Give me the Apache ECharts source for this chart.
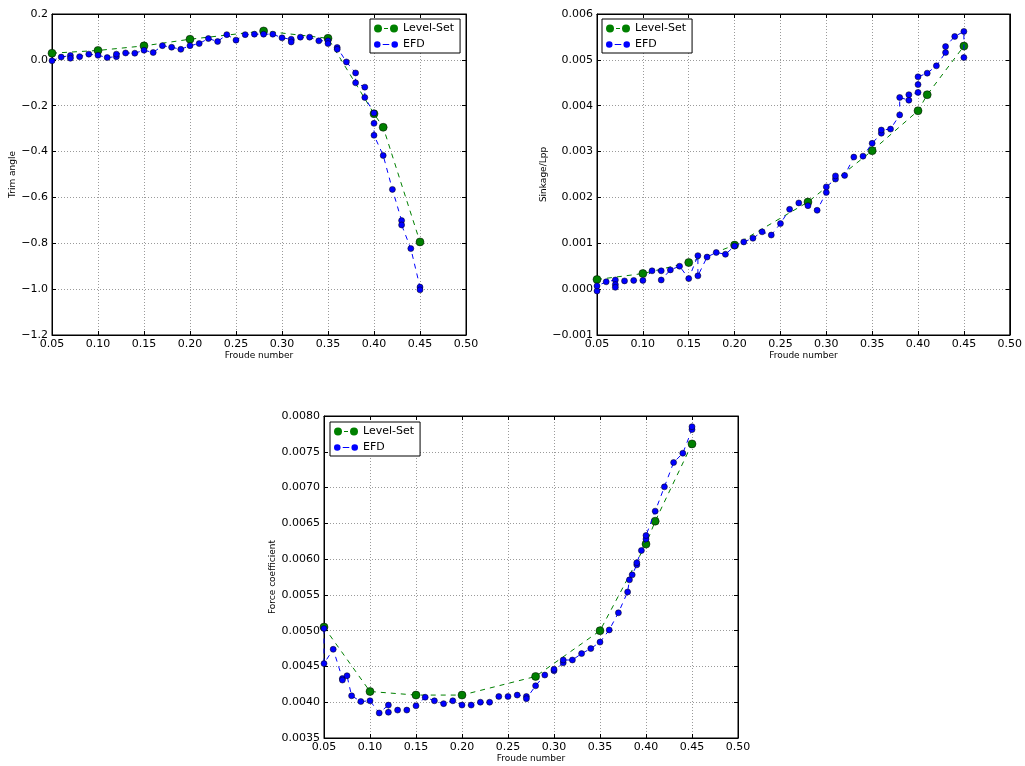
<!DOCTYPE html>
<html>
<head>
<meta charset="utf-8">
<script src="https://cdn.jsdelivr.net/npm/echarts@6/dist/echarts.min.js"></script>
<style>
  html, body { margin: 0; padding: 0; background: #fff; }
  #chart { width: 1025px; height: 766px; }
</style>
</head>
<body>
<div id="chart"></div>
<script>
// Froude number vs. trim, sinkage and force coefficient: Level-Set computation vs. EFD measurements
const FONT = 'DejaVu Sans';

// Trim angle
const trimLevelSet = [
  [0.05, 0.029], [0.10, 0.041], [0.15, 0.061], [0.20, 0.090], [0.28, 0.126],
  [0.35, 0.094], [0.40, -0.235], [0.41, -0.294], [0.45, -0.794]
];
const trimEFD = [
  [0.05, -0.004], [0.06, 0.012], [0.07, 0.019], [0.07, 0.007], [0.08, 0.014],
  [0.09, 0.025], [0.10, 0.020], [0.11, 0.010], [0.12, 0.014], [0.12, 0.025],
  [0.13, 0.030], [0.14, 0.029], [0.15, 0.042], [0.16, 0.032], [0.17, 0.062],
  [0.18, 0.055], [0.19, 0.046], [0.20, 0.062], [0.21, 0.071], [0.22, 0.093],
  [0.23, 0.080], [0.24, 0.110], [0.25, 0.086], [0.26, 0.110], [0.27, 0.112],
  [0.28, 0.112], [0.29, 0.112], [0.30, 0.096], [0.31, 0.090], [0.31, 0.078],
  [0.32, 0.099], [0.33, 0.099], [0.34, 0.083], [0.35, 0.083], [0.35, 0.071],
  [0.36, 0.054], [0.36, 0.046], [0.37, -0.009], [0.38, -0.057], [0.38, -0.100],
  [0.39, -0.119], [0.39, -0.164], [0.40, -0.232], [0.40, -0.277], [0.40, -0.329],
  [0.41, -0.417], [0.42, -0.565], [0.43, -0.701], [0.43, -0.720], [0.44, -0.823],
  [0.45, -0.991], [0.45, -1.003]
];

// Sinkage / Lpp
const sinkLevelSet = [
  [0.05, 0.00021], [0.10, 0.00034], [0.15, 0.00058], [0.20, 0.00096], [0.28, 0.00190],
  [0.35, 0.00302], [0.40, 0.00389], [0.41, 0.00424], [0.45, 0.00530]
];
const sinkEFD = [
  [0.05, -0.00004], [0.05, 0.00007], [0.06, 0.00016], [0.07, 0.00020], [0.07, 0.00010],
  [0.07, 0.00004], [0.08, 0.00018], [0.09, 0.00019], [0.10, 0.00019], [0.11, 0.00040],
  [0.12, 0.00040], [0.12, 0.00020], [0.13, 0.00042], [0.14, 0.00050], [0.15, 0.00023],
  [0.16, 0.00073], [0.16, 0.00029], [0.17, 0.00070], [0.18, 0.00080], [0.19, 0.00076],
  [0.20, 0.00094], [0.21, 0.00103], [0.22, 0.00111], [0.23, 0.00125], [0.24, 0.00118],
  [0.25, 0.00143], [0.26, 0.00174], [0.27, 0.00188], [0.28, 0.00182], [0.29, 0.00172],
  [0.30, 0.00211], [0.30, 0.00223], [0.31, 0.00240], [0.31, 0.00247], [0.32, 0.00248],
  [0.33, 0.00288], [0.34, 0.00290], [0.35, 0.00318], [0.36, 0.00340], [0.36, 0.00347],
  [0.37, 0.00349], [0.38, 0.00380], [0.38, 0.00418], [0.39, 0.00412], [0.39, 0.00424],
  [0.40, 0.00429], [0.40, 0.00446], [0.40, 0.00463], [0.41, 0.00471], [0.42, 0.00487],
  [0.43, 0.00516], [0.43, 0.00529], [0.44, 0.00551], [0.45, 0.00562], [0.45, 0.00505]
];

// Force coefficient
const forceLevelSet = [
  [0.05, 0.00505], [0.10, 0.00415], [0.15, 0.00410], [0.20, 0.00410], [0.28, 0.00436],
  [0.35, 0.00500], [0.40, 0.00621], [0.41, 0.00653], [0.45, 0.00761]
];
const forceEFD = [
  [0.05, 0.00503], [0.05, 0.00454], [0.06, 0.00474], [0.07, 0.00433], [0.07, 0.00431],
  [0.075, 0.00437], [0.08, 0.00409], [0.09, 0.00401], [0.10, 0.00402], [0.11, 0.00385],
  [0.12, 0.00396], [0.12, 0.00386], [0.13, 0.00389], [0.14, 0.00389], [0.15, 0.00395],
  [0.16, 0.00407], [0.17, 0.00402], [0.18, 0.00398], [0.19, 0.00402], [0.20, 0.00396],
  [0.21, 0.00396], [0.22, 0.00400], [0.23, 0.00400], [0.24, 0.00408], [0.25, 0.00408],
  [0.26, 0.00410], [0.27, 0.00408], [0.27, 0.00405], [0.28, 0.00423], [0.29, 0.00438],
  [0.30, 0.00444], [0.30, 0.00446], [0.31, 0.00455], [0.31, 0.00459], [0.32, 0.00459],
  [0.33, 0.00468], [0.34, 0.00475], [0.35, 0.00484], [0.36, 0.00501], [0.37, 0.00525],
  [0.38, 0.00554], [0.382, 0.00571], [0.385, 0.00578], [0.39, 0.00592], [0.39, 0.00595],
  [0.395, 0.00612], [0.40, 0.00628], [0.40, 0.00633], [0.41, 0.00667], [0.42, 0.00701],
  [0.43, 0.00735], [0.44, 0.00748], [0.45, 0.00781], [0.45, 0.00785]
];

// Shared Froude axis range
const froudeMin = 0.05, froudeMax = 0.50, froudeStep = 0.05;

const GREEN = '#008000', BLUE = '#0000ff';

const panels = [
  { grid: { left: 52, top: 14, width: 414, height: 321 },
    yMin: -1.2, yMax: 0.2, yStep: 0.2, yDec: 1,
    yName: 'Trim angle', yGap: 33,
    levelSet: trimLevelSet, efd: trimEFD, legendPos: { left: 370, top: 19 } },
  { grid: { left: 597, top: 14, width: 413, height: 321 },
    yMin: -0.001, yMax: 0.006, yStep: 0.001, yDec: 3,
    yName: 'Sinkage/Lpp', yGap: 48,
    levelSet: sinkLevelSet, efd: sinkEFD, legendPos: { left: 602, top: 19 } },
  { grid: { left: 324, top: 416, width: 414, height: 322 },
    yMin: 0.0035, yMax: 0.0080, yStep: 0.0005, yDec: 4,
    yName: 'Force coefficient', yGap: 44,
    levelSet: forceLevelSet, efd: forceEFD, legendPos: { left: 330, top: 422 } }
];

const fmt = dec => v => v.toFixed(dec).replace('-', '\u2212');

const tickStyle = { show: true, inside: true, length: 4, lineStyle: { color: '#000', width: 1 } };
const lineStyleAxis = { show: true, onZero: false, lineStyle: { color: '#000', width: 1 } };
const gridLine = { show: true, lineStyle: { color: '#9a9a9a', width: 1, type: [1, 2] } };
const labelStyle = { color: '#000', fontSize: 11, fontFamily: FONT };
const nameStyle = { color: '#000', fontSize: 9, fontFamily: FONT };

// Legend glyphs: two markers joined by a short dash
const iconLevelSet = 'path://M0,4a4,4 0 1,0 8,0a4,4 0 1,0 -8,0Z M16,4a4,4 0 1,0 8,0a4,4 0 1,0 -8,0Z M10,3.5L14,3.5L14,4.5L10,4.5Z';
const iconEFD = 'path://M1,4a3,3 0 1,0 6,0a3,3 0 1,0 -6,0Z M17,4a3,3 0 1,0 6,0a3,3 0 1,0 -6,0Z M9,3.5L15,3.5L15,4.5L9,4.5Z';

const grids = [], xAxes = [], yAxes = [], series = [], legends = [];

panels.forEach((p, i) => {
  grids.push(Object.assign({ show: true, borderColor: '#000', borderWidth: 1, backgroundColor: '#fff' }, p.grid));
  xAxes[i] = {
    type: 'value', gridIndex: i, position: 'bottom',
    min: froudeMin, max: froudeMax, interval: froudeStep,
    name: 'Froude number', nameLocation: 'middle', nameGap: 15, nameTextStyle: nameStyle,
    axisLine: lineStyleAxis, axisTick: tickStyle, splitLine: gridLine,
    axisLabel: Object.assign({ margin: 4, formatter: fmt(2) }, labelStyle)
  };
  yAxes[i] = {
    type: 'value', gridIndex: i, position: 'left',
    min: p.yMin, max: p.yMax, interval: p.yStep,
    name: p.yName, nameLocation: 'middle', nameGap: p.yGap, nameTextStyle: nameStyle,
    axisLine: lineStyleAxis, axisTick: tickStyle, splitLine: gridLine,
    axisLabel: Object.assign({ margin: 4, formatter: fmt(p.yDec) }, labelStyle)
  };
  // Mirror axes on top and right carry the inward ticks of the frame
  xAxes[i + 3] = {
    type: 'value', gridIndex: i, position: 'top',
    min: froudeMin, max: froudeMax, interval: froudeStep,
    axisLine: lineStyleAxis, axisTick: tickStyle, splitLine: { show: false }, axisLabel: { show: false }
  };
  yAxes[i + 3] = {
    type: 'value', gridIndex: i, position: 'right',
    min: p.yMin, max: p.yMax, interval: p.yStep,
    axisLine: lineStyleAxis, axisTick: tickStyle, splitLine: { show: false }, axisLabel: { show: false }
  };

  series.push({
    type: 'line', name: 'Level-Set', xAxisIndex: i, yAxisIndex: i,
    data: p.levelSet, symbol: 'circle', symbolSize: 8, showSymbol: true,
    lineStyle: { color: GREEN, width: 1, type: [5, 5] },
    itemStyle: { color: GREEN, borderColor: '#000', borderWidth: 0.5 },
    emphasis: { disabled: true }, z: 3
  });
  series.push({
    type: 'line', name: 'EFD', xAxisIndex: i, yAxisIndex: i,
    data: p.efd, symbol: 'circle', symbolSize: 6, showSymbol: true,
    lineStyle: { color: BLUE, width: 1, type: [5, 5] },
    itemStyle: { color: BLUE, borderColor: '#000', borderWidth: 0.5 },
    emphasis: { disabled: true }, z: 4
  });

  legends.push({
    left: p.legendPos.left, top: p.legendPos.top, orient: 'vertical',
    selectedMode: false, backgroundColor: '#fff', borderColor: '#000', borderWidth: 1,
    padding: [4, 6, 3, 4], itemGap: 5, itemWidth: 24, itemHeight: 8,
    textStyle: { color: '#000', fontSize: 11, fontFamily: FONT },
    data: [
      { name: 'Level-Set', icon: iconLevelSet, itemStyle: { color: GREEN, borderWidth: 0 } },
      { name: 'EFD', icon: iconEFD, itemStyle: { color: BLUE, borderWidth: 0 } }
    ]
  });
});

const chart = echarts.init(document.getElementById('chart'), null, { renderer: 'canvas' });
chart.setOption({
  animation: false,
  backgroundColor: '#fff',
  textStyle: { fontFamily: FONT },
  grid: grids,
  xAxis: xAxes,
  yAxis: yAxes,
  legend: legends,
  series: series
});
</script>
</body>
</html>
